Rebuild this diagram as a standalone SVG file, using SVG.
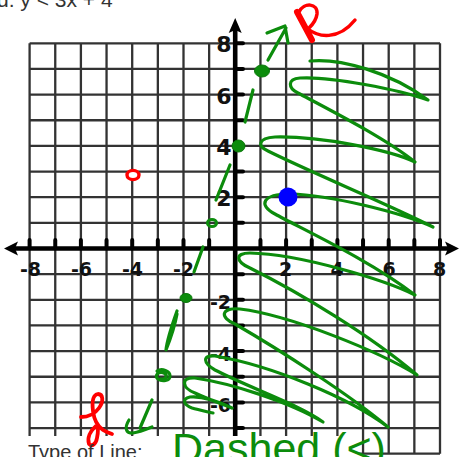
<svg xmlns="http://www.w3.org/2000/svg" width="460" height="457" viewBox="0 0 460 457">
<defs>
<style>
.grid{fill:none;stroke:#333;stroke-width:2.3}
.axis{fill:none;stroke:#000;stroke-width:4.6}
.tick{fill:none;stroke:#000;stroke-width:4;stroke-linecap:round}
.lbl{font-family:"DejaVu Sans",sans-serif;font-weight:bold;fill:#111}
.lx{font-size:19px;text-anchor:middle}
.ly{font-size:22px;text-anchor:end}
.lyn{font-size:19px;text-anchor:end}
.g{fill:none;stroke:#0c8c0c;stroke-width:3.2;stroke-linecap:round;stroke-linejoin:round}
.gf{fill:#0c8c0c;stroke:#0a7a0a;stroke-width:1}
.r{fill:none;stroke:#f00;stroke-linecap:round;stroke-linejoin:round}
.hdr{font-family:"Liberation Sans",Arial,sans-serif;fill:#333}
</style>
</defs>
<rect width="460" height="457" fill="#fff"/>
<text class="hdr" x="-3" y="7" font-size="21">d. y &lt; 3x + 4</text>
<g id="grid">
<path class="grid" d="M29.6,43.3V453.7M55.25,43.3V453.7M80.9,43.3V453.7M106.55,43.3V453.7M132.2,43.3V453.7M157.85,43.3V453.7M183.5,43.3V453.7M209.15,43.3V453.7M234.8,43.3V453.7M260.45,43.3V453.7M286.1,43.3V453.7M311.75,43.3V453.7M337.4,43.3V453.7M363.05,43.3V453.7M388.7,43.3V453.7M414.35,43.3V453.7M440,43.3V453.7M29.6,43.3H440M29.6,68.95H440M29.6,94.6H440M29.6,120.25H440M29.6,145.9H440M29.6,171.55H440M29.6,197.2H440M29.6,222.85H440M29.6,248.5H440M29.6,274.15H440M29.6,299.8H440M29.6,325.45H440M29.6,351.1H440M29.6,376.75H440M29.6,402.4H440M29.6,428.05H440M29.6,453.7H440"/>
<rect x="0" y="436" width="358" height="21" fill="#fff"/>
</g>
<g id="axes">
<path class="axis" d="M14,248.5H450M235.2,30V436"/>
<path d="M4,248.5L18,241.5L15,248.5L18,255.5Z M459,248.5L445,241.5L448,248.5L445,255.5Z M235.2,18L241.7,33L235.2,30L228.7,33Z" fill="#000"/>
<path class="tick" d="M29.6,240V248M55.25,240V248M80.9,240V248M106.55,240V248M132.2,240V248M157.85,240V248M183.5,240V248M209.15,240V248M260.45,240V248M286.1,240V248M311.75,240V248M337.4,240V248M363.05,240V248M388.7,240V248M414.35,240V248M440,240V248"/>
<path class="tick" d="M236,43.3H243M236,68.95H243M236,94.6H243M236,120.25H243M236,145.9H243M236,171.55H243M236,197.2H243M236,222.85H243M236,274.15H243M236,299.8H243M236,325.45H243M236,351.1H243M236,376.75H243M236,402.4H243M236,428.05H243"/>
</g>
<g id="labels" class="lbl">
<text class="lx" x="30.5" y="275.5">-8</text>
<text class="lx" x="81.5" y="275.5">-6</text>
<text class="lx" x="132.5" y="275.5">-4</text>
<text class="lx" x="183.5" y="275.5">-2</text>
<text class="lx" x="285.5" y="275.5">2</text>
<text class="lx" x="337" y="275.5">4</text>
<text class="lx" x="389" y="275.5">6</text>
<text class="lx" x="439.5" y="275.5">8</text>
<text class="ly" x="231.5" y="52">8</text>
<text class="ly" x="231.5" y="104">6</text>
<text class="ly" x="231.5" y="154.5">4</text>
<text class="ly" x="231.5" y="206">2</text>
<text class="lyn" x="231" y="309">-2</text>
<text class="lyn" x="231" y="361">-4</text>
<text class="lyn" x="231" y="412">-6</text>
</g>
<g id="boundary-line">
<path class="g" d="M268,60L286,28M267,33L285,26L288,43"/>
<ellipse class="gf" cx="262" cy="71" rx="7.5" ry="6"/>
<path class="g" stroke-width="4" d="M253,90L245,122"/>
<ellipse class="gf" cx="238.5" cy="146" rx="6.5" ry="6"/>
<path class="g" d="M230,165L216,200"/>
<ellipse class="g" cx="212" cy="223" rx="4.5" ry="3.5" stroke-width="2.5"/>
<path class="g" d="M203,247L194,272"/>
<ellipse class="gf" cx="186" cy="298" rx="6" ry="4.5"/>
<path class="g" stroke-width="2.6" d="M177,311C172,325 167,340 166,350C170,340 175,325 177,314"/>
<path class="g" d="M157,371C162,368 170,371 170,376C170,381 162,382 158,379C154,376 158,371 164,373C168,375 166,380 161,379"/>
<path class="g" d="M152,400L140,428M129,420C124,428 126,434 133,433C140,432 147,429 152,427"/>
</g>
<g id="shading">
<path class="g" stroke-width="3" d="M310,61C340,58 390,72 428,100C400,90 330,76 300,78C287,79 288,88 298,93C330,110 385,138 415,162C390,150 320,136 275,137C258,138 257,146 268,151C310,172 390,205 433,227C400,212 330,195 290,194C262,194 258,205 275,214C300,228 370,260 415,295C385,280 300,254 250,253C234,253 236,262 250,268C300,293 370,335 417,375C380,352 290,315 240,309C220,307 220,318 235,324C280,350 350,395 388,427C350,398 270,365 215,356C202,355 203,363 215,370C250,388 300,405 323,422C290,402 230,383 195,378C180,377 182,388 195,393C210,400 225,405 232,408C215,400 200,396 190,397C181,399 184,405 192,408C200,410 207,412 213,413"/>
</g>
<g id="test-point">
<circle cx="288" cy="197" r="9.5" fill="#0000ff"/>
</g>
<g id="red-marks">
<path class="r" stroke-width="6" d="M297,12L312,40"/>
<path class="r" stroke-width="3.5" d="M299,12C304,2 318,3 317,14C316,22 311,26 308,29C318,37 338,41 355,20"/>
<ellipse cx="133" cy="175" rx="6" ry="4.6" fill="#fff" stroke="#f00" stroke-width="3.4"/>
<path class="r" stroke-width="3.8" d="M81,417C88,417 94,415 99,408C104,401 103,394 98,394C92,395 92,403 93,411C94,419 97,426 103,430C106,432 109,433 112,434M96,426C90,431 87,438 89,444C92,447 96,444 97,438C98,434 98,431 98,428"/>
</g>
<text class="hdr" x="28" y="459" font-size="20">Type of Line:</text>
<text x="172" y="463" font-family="Liberation Sans, Arial, sans-serif" font-size="43" fill="#0c8c0c">Dashed (&lt;)</text>
</svg>
